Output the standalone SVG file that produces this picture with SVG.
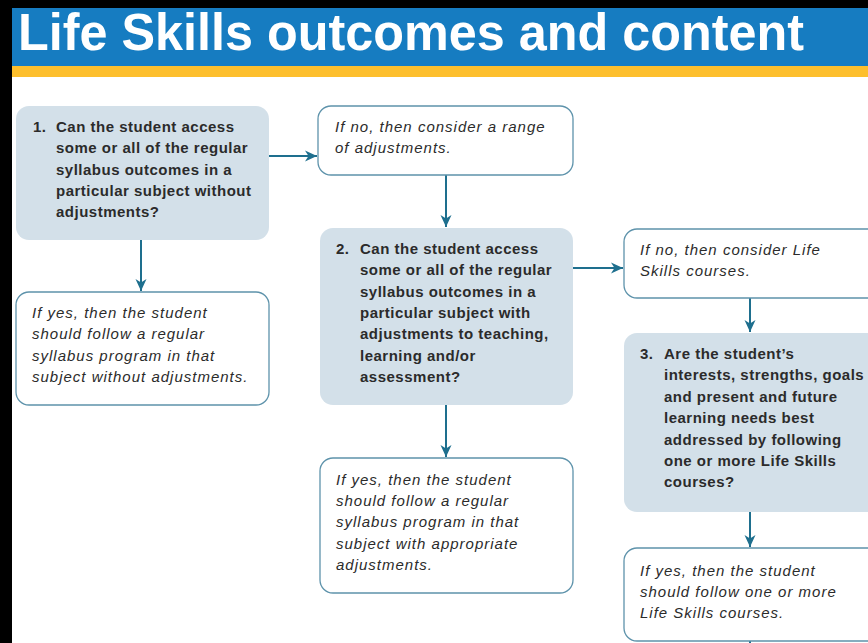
<svg xmlns="http://www.w3.org/2000/svg" width="868" height="643" viewBox="0 0 868 643">
<defs>
<marker id="ah" viewBox="0 0 12 12" refX="12" refY="6" markerWidth="12" markerHeight="12" markerUnits="userSpaceOnUse" orient="auto">
<path d="M0,0.5 L12,6 L0,11.5 L3.5,6 Z" fill="#1e6f8e"/>
</marker>
<style>
.q{fill:#d3e0e9;stroke:none}
.a{fill:#fff;stroke:#5e93ab;stroke-width:1.3}
.tb{font-family:"Liberation Sans",Arial,sans-serif;font-size:15px;font-weight:bold;fill:#2b2b2b;letter-spacing:0.5px}
.ti{font-family:"Liberation Sans",Arial,sans-serif;font-size:15px;font-style:italic;fill:#2b2b2b;letter-spacing:1px}
.c{stroke:#1e6f8e;stroke-width:2;fill:none}
</style>
</defs>
<rect x="0" y="0" width="868" height="643" fill="#000"/>
<rect x="12" y="8" width="856" height="635" fill="#fff"/>
<rect x="12" y="8" width="856" height="58" fill="#167cc1"/>
<rect x="12" y="66" width="856" height="11" fill="#fdbf2d"/>
<text x="18" y="50" font-family="'Liberation Sans',Arial,sans-serif" font-size="52" font-weight="bold" fill="#fff" textLength="786" lengthAdjust="spacingAndGlyphs">Life Skills outcomes and content</text>

<g id="connectors">
<line class="c" x1="269" y1="156" x2="317" y2="156" marker-end="url(#ah)"/>
<line class="c" x1="141" y1="240" x2="141" y2="291" marker-end="url(#ah)"/>
<line class="c" x1="446" y1="175" x2="446" y2="227" marker-end="url(#ah)"/>
<line class="c" x1="573" y1="268" x2="623" y2="268" marker-end="url(#ah)"/>
<line class="c" x1="446" y1="405" x2="446" y2="457" marker-end="url(#ah)"/>
<line class="c" x1="750" y1="298" x2="750" y2="332" marker-end="url(#ah)"/>
<line class="c" x1="750" y1="512" x2="750" y2="547" marker-end="url(#ah)"/>
<line class="c" x1="750" y1="641" x2="750" y2="643"/>
</g>

<g id="q1">
<rect class="q" x="16" y="106" width="253" height="134" rx="13"/>
<text class="tb" x="33" y="132">1.</text>
<text class="tb" x="56" y="132">Can the student access</text>
<text class="tb" x="56" y="153">some or all of the regular</text>
<text class="tb" x="56" y="175">syllabus outcomes in a</text>
<text class="tb" x="56" y="196">particular subject without</text>
<text class="tb" x="56" y="217">adjustments?</text>
</g>

<g id="no1">
<rect class="a" x="318" y="106" width="255" height="69" rx="13"/>
<text class="ti" x="335" y="132">If no, then consider a range</text>
<text class="ti" x="335" y="153">of adjustments.</text>
</g>

<g id="yes1">
<rect class="a" x="16" y="292" width="253" height="113" rx="13"/>
<text class="ti" x="32" y="318">If yes, then the student</text>
<text class="ti" x="32" y="339">should follow a regular</text>
<text class="ti" x="32" y="361">syllabus program in that</text>
<text class="ti" x="32" y="382">subject without adjustments.</text>
</g>

<g id="q2">
<rect class="q" x="320" y="228" width="253" height="177" rx="13"/>
<text class="tb" x="336" y="254">2.</text>
<text class="tb" x="360" y="254">Can the student access</text>
<text class="tb" x="360" y="275">some or all of the regular</text>
<text class="tb" x="360" y="297">syllabus outcomes in a</text>
<text class="tb" x="360" y="318">particular subject with</text>
<text class="tb" x="360" y="339">adjustments to teaching,</text>
<text class="tb" x="360" y="361">learning and/or</text>
<text class="tb" x="360" y="382">assessment?</text>
</g>

<g id="yes2">
<rect class="a" x="320" y="458" width="253" height="135" rx="13"/>
<text class="ti" x="336" y="485">If yes, then the student</text>
<text class="ti" x="336" y="506">should follow a regular</text>
<text class="ti" x="336" y="527">syllabus program in that</text>
<text class="ti" x="336" y="549">subject with appropriate</text>
<text class="ti" x="336" y="570">adjustments.</text>
</g>

<g id="no2">
<rect class="a" x="624" y="229" width="260" height="69" rx="13"/>
<text class="ti" x="640" y="255">If no, then consider Life</text>
<text class="ti" x="640" y="276">Skills courses.</text>
</g>

<g id="q3">
<rect class="q" x="624" y="333" width="260" height="179" rx="13"/>
<text class="tb" x="640" y="359">3.</text>
<text class="tb" x="664" y="359">Are the student’s</text>
<text class="tb" x="664" y="380">interests, strengths, goals</text>
<text class="tb" x="664" y="402">and present and future</text>
<text class="tb" x="664" y="423">learning needs best</text>
<text class="tb" x="664" y="445">addressed by following</text>
<text class="tb" x="664" y="466">one or more Life Skills</text>
<text class="tb" x="664" y="487">courses?</text>
</g>

<g id="yes3">
<rect class="a" x="624" y="548" width="260" height="93" rx="13"/>
<text class="ti" x="640" y="576">If yes, then the student</text>
<text class="ti" x="640" y="597">should follow one or more</text>
<text class="ti" x="640" y="618">Life Skills courses.</text>
</g>
</svg>
